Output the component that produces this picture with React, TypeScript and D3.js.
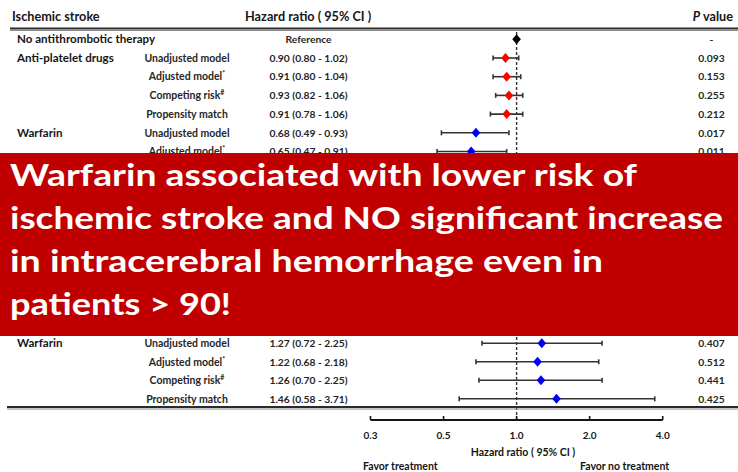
import React from "react";
import * as d3 from "d3";

// ---- data ----
type Row = {
  group: string;
  model: string;
  mark: string; // superscript after the model name
  hr: number | null;
  lo: number | null;
  hi: number | null;
  hrText: string;
  p: string;
  color: string;
};

const groups = ["No antithrombotic therapy", "Anti-platelet drugs", "", "", "", "Warfarin", ""];
const models = ["", "Unadjusted model", "Adjusted model", "Competing risk", "Propensity match", "Unadjusted model", "Adjusted model"];
const marks = ["", "", "*", "#", "", "", "*"];
const hrValues = [1.0, 0.9, 0.91, 0.93, 0.91, 0.68, 0.65];
const ciLower = [null, 0.8, 0.8, 0.82, 0.78, 0.49, 0.47];
const ciUpper = [null, 1.02, 1.04, 1.06, 1.06, 0.93, 0.91];
const hrLabels = ["Reference", "0.90 (0.80 - 1.02)", "0.91 (0.80 - 1.04)", "0.93 (0.82 - 1.06)", "0.91 (0.78 - 1.06)", "0.68 (0.49 - 0.93)", "0.65 (0.47 - 0.91)"];
const pValues = ["-", "0.093", "0.153", "0.255", "0.212", "0.017", "0.011"];
const markerColors = ["#000000", "#ff0000", "#ff0000", "#ff0000", "#ff0000", "#0000ee", "#0000ee"];

const ichGroups = ["Warfarin", "", "", ""];
const ichModels = ["Unadjusted model", "Adjusted model", "Competing risk", "Propensity match"];
const ichMarks = ["", "*", "#", ""];
const ichHr = [1.27, 1.22, 1.26, 1.46];
const ichLower = [0.72, 0.68, 0.7, 0.58];
const ichUpper = [2.25, 2.18, 2.25, 3.71];
const ichLabels = ["1.27 (0.72 - 2.25)", "1.22 (0.68 - 2.18)", "1.26 (0.70 - 2.25)", "1.46 (0.58 - 3.71)"];
const ichP = ["0.407", "0.512", "0.441", "0.425"];
const ichColors = ["#0000ee", "#0000ee", "#0000ee", "#0000ee"];

const tickValues = [0.25, 0.5, 1, 2, 4];
const tickLabels = ["0.3", "0.5", "1.0", "2.0", "4.0"];

const bannerLines = [
  "Warfarin associated with lower risk of",
  "ischemic stroke and NO significant increase",
  "in intracerebral hemorrhage even in",
  "patients > 90!",
];
const bannerWidths = [627, 713, 593, 221];

const strokeRows: Row[] = groups.map((g, i) => ({
  group: g, model: models[i], mark: marks[i], hr: hrValues[i], lo: ciLower[i], hi: ciUpper[i],
  hrText: hrLabels[i], p: pValues[i], color: markerColors[i],
}));
const ichRows: Row[] = ichGroups.map((g, i) => ({
  group: g, model: ichModels[i], mark: ichMarks[i], hr: ichHr[i], lo: ichLower[i], hi: ichUpper[i],
  hrText: ichLabels[i], p: ichP[i], color: ichColors[i],
}));

// ---- layout ----
const W = 738;
const H = 472;
const FONT = "Lato, 'Open Sans', sans-serif";
const INK = "#151515";
const SOFT = "#262626";

const x = d3.scaleLog().base(2).domain([0.25, 4]).range([370.5, 662.7]);
const yTop = d3.scaleLinear().domain([0, 6]).range([39.3, 151.5]);
const yIch = d3.scaleLinear().domain([0, 3]).range([343.3, 398.8]);

const COL_GROUP = 17;
const COL_MODEL = 187;
const COL_HR = 308.5;
const COL_P = 711.5;
const AXIS_Y = 420;

function Diamond({ cx, cy, fill }: { cx: number; cy: number; fill: string }) {
  const w = 4.3, h = 5;
  return <path d={`M${cx},${cy - h}L${cx + w},${cy}L${cx},${cy + h}L${cx - w},${cy}Z`} fill={fill} />;
}

function RowView({ r, y }: { r: Row; y: number }) {
  const base = y + 3.7;
  return (
    <g>
      {r.group && (
        <text x={COL_GROUP} y={base} fontSize={11.6} fontWeight={700} fill={INK}>{r.group}</text>
      )}
      {r.model && (
        <text x={COL_MODEL} y={base} fontSize={10.5} fontWeight={700} fill={SOFT} textAnchor="middle">
          {r.model}
          {r.mark && <tspan fontSize={7} dy={-4}>{r.mark}</tspan>}
        </text>
      )}
      <text x={COL_HR} y={base} fontSize={10.3} fontWeight={700} fill={SOFT} textAnchor="middle">{r.hrText}</text>
      <text x={COL_P} y={base} fontSize={10.3} fontWeight={700} fill={SOFT} textAnchor="middle">{r.p}</text>
      {r.lo != null && r.hi != null && (
        <g stroke="#333" strokeWidth={1.6}>
          <line x1={x(r.lo)} x2={x(r.hi)} y1={y} y2={y} />
          <line x1={x(r.lo)} x2={x(r.lo)} y1={y - 2.5} y2={y + 2.5} />
          <line x1={x(r.hi)} x2={x(r.hi)} y1={y - 2.5} y2={y + 2.5} />
        </g>
      )}
      {r.hr != null && <Diamond cx={x(r.hr)} cy={y} fill={r.color} />}
    </g>
  );
}

export default function App() {
  return (
    <svg
      width={W}
      height={H}
      viewBox={`0 0 ${W} ${H}`}
      style={{ position: "absolute", left: 0, top: 0, background: "#fff" }}
      fontFamily={FONT}
    >
      <rect width={W} height={H} fill="#fff" />

      {/* header */}
      <text x={12} y={21} fontSize={12.7} fontWeight={700} fill={INK}>Ischemic stroke</text>
      <text x={245} y={21} fontSize={12.7} fontWeight={700} fill={INK}>Hazard ratio ( 95% CI )</text>
      <text x={733} y={21} fontSize={12.7} fontWeight={700} fill={INK} textAnchor="end">
        <tspan fontStyle="italic">P</tspan> value
      </text>
      <line x1={10} x2={W} y1={28.5} y2={28.5} stroke="#2a2a2a" strokeWidth={2} />
      <line x1={10} x2={W} y1={30.5} y2={30.5} stroke="#888" strokeWidth={1} />

      {/* reference line at HR = 1 */}
      <line x1={x(1)} x2={x(1)} y1={32} y2={AXIS_Y} stroke="#333" strokeWidth={1.4} strokeDasharray="3,2" />

      {strokeRows.map((r, i) => <RowView key={`s${i}`} r={r} y={yTop(i)} />)}
      {ichRows.map((r, i) => <RowView key={`h${i}`} r={r} y={yIch(i)} />)}

      {/* table bottom rule */}
      <line x1={7} x2={W} y1={407} y2={407} stroke="#2a2a2a" strokeWidth={2} />
      <line x1={7} x2={W} y1={409} y2={409} stroke="#888" strokeWidth={1} />

      {/* axis */}
      <line x1={x(0.25)} x2={x(4)} y1={AXIS_Y} y2={AXIS_Y} stroke={INK} strokeWidth={1.8} />
      {tickValues.map((v, i) => (
        <g key={v}>
          <line x1={x(v)} x2={x(v)} y1={AXIS_Y - 4} y2={AXIS_Y} stroke={INK} strokeWidth={1.6} />
          <text x={x(v)} y={439} fontSize={10} fontWeight={700} fill={INK} textAnchor="middle">{tickLabels[i]}</text>
        </g>
      ))}
      <text x={523} y={456} fontSize={10.5} fontWeight={700} fill={INK} textAnchor="middle">Hazard ratio ( 95% CI )</text>
      <text x={363} y={470} fontSize={10.5} fontWeight={700} fill={INK}>Favor treatment</text>
      <text x={580} y={470} fontSize={10.5} fontWeight={700} fill={INK}>Favor no treatment</text>

      {/* banner */}
      <rect x={0} y={153} width={W} height={183} fill="#c00000" />
      {bannerLines.map((t, i) => (
        <text
          key={i}
          x={10}
          y={186 + i * 43}
          fontSize={30}
          fontWeight={700}
          fill="#fff"
          textLength={bannerWidths[i]}
          lengthAdjust="spacingAndGlyphs"
        >
          {t}
        </text>
      ))}
    </svg>
  );
}
